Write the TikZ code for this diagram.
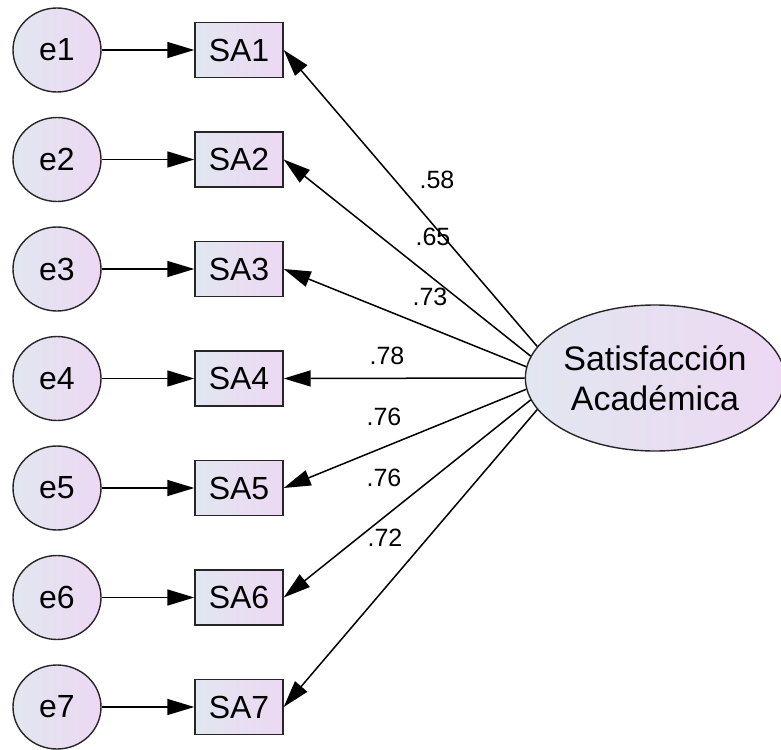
\documentclass[tikz,border=0pt]{standalone}
\usepackage{fontspec}
\setmainfont{Liberation Sans}
\usetikzlibrary{arrows.meta,shapes.geometric}
\definecolor{shA}{RGB}{226,230,240}
\definecolor{shB}{RGB}{237,216,243}
\begin{document}
\begin{tikzpicture}[x=1pt,y=-1pt,
 errnode/.style={ellipse, draw=black!85, line width=1.4pt, minimum width=88pt, minimum height=84pt, inner sep=0pt, left color=shA, right color=shB, font=\fontsize{32}{36}\selectfont},
 obsnode/.style={rectangle, draw=black!85, line width=1.4pt, minimum width=88pt, minimum height=55pt, inner sep=0pt, left color=shA, right color=shB, font=\fontsize{32}{36}\selectfont},
 latnode/.style={ellipse, draw=black!85, line width=1.4pt, minimum width=250pt, minimum height=146pt, inner sep=0pt, left color=shA, right color=shB, align=center, font=\fontsize{34}{40}\selectfont},
 arr/.style={-{Triangle[length=27pt,width=16pt]}, line width=1.5pt},
 coef/.style={font=\fontsize{25}{28}\selectfont, inner sep=0pt}]
\useasboundingbox (0,0) rectangle (781,749);
\node[latnode] (L) at (655,378) {Satisfacción\\Académica};
\foreach \i/\y/\a in {1/50/165,2/159.5/170,3/269/175,4/378.5/180,5/488/185,6/597.5/190,7/707/195}{
  \node[errnode] (e\i) at (57,\y) {e\i};
  \node[obsnode] (SA\i) at (239,\y) {SA\i};
  \draw[arr] (e\i) -- (SA\i);
  \draw[arr] (L.\a) -- (SA\i.east);
}
\node[coef] (c1) at (437,180) {.58};
\node[coef] (c2) at (433,237) {.65};
\node[coef] (c3) at (430,297) {.73};
\node[coef] (c4) at (387,356) {.78};
\node[coef] (c5) at (384,417) {.76};
\node[coef] (c6) at (384,478) {.76};
\node[coef] (c7) at (385,538) {.72};
\end{tikzpicture}
\end{document}
